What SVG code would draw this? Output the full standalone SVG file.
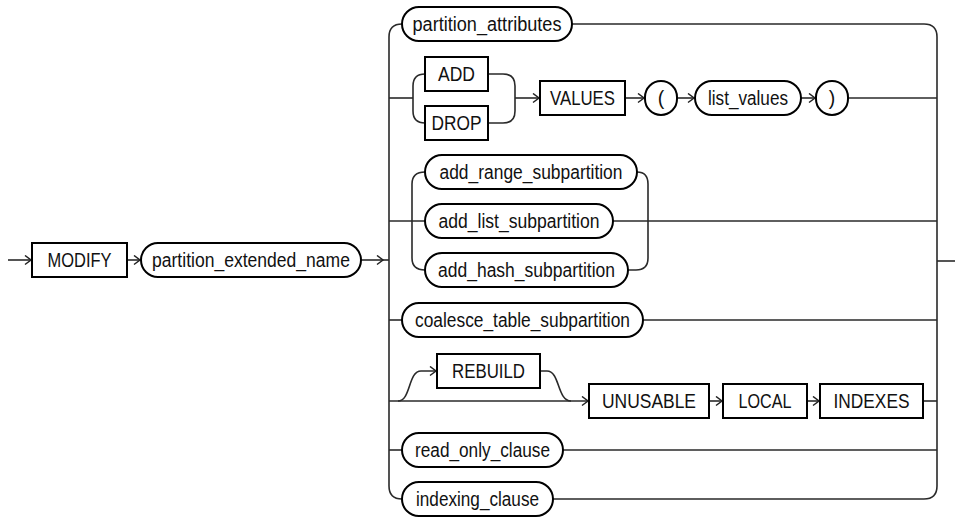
<svg xmlns="http://www.w3.org/2000/svg" width="955" height="518" viewBox="0 0 955 518">
<defs>
<marker id="arr" markerUnits="userSpaceOnUse" markerWidth="10" markerHeight="12" refX="7" refY="5" orient="auto">
<path d="M1,0.5 L7,5 L1,9.5" fill="none" stroke="#222" stroke-width="1.5"/>
</marker>
</defs>
<style>
.ln{fill:none;stroke:#2a2a2a;stroke-width:1.6}
.a{marker-end:url(#arr)}
.kw{fill:#fff;stroke:#000;stroke-width:2}
.nt{fill:#fff;stroke:#000;stroke-width:2}
text{font-family:"Liberation Sans",Arial,sans-serif;font-size:19.5px;fill:#111;text-anchor:middle}
</style>
<rect width="955" height="518" fill="#fff"/>
<g id="connectors">
<path class="ln a" d="M8,260 L31,260"/>
<path class="ln a" d="M127,260 L140,260"/>
<path class="ln a" d="M361,260 L383,260"/>
<path class="ln" d="M383,260 L389,260"/>
<path class="ln" d="M402,24 Q389,24 389,37 L389,486 Q389,499 402,499"/>
<path class="ln" d="M572,24 L924,24 Q937,24 937,37 L937,486 Q937,499 924,499 L553,499"/>
<path class="ln" d="M937,261 L955,261"/>
<path class="ln" d="M389,98 L413,98"/>
<path class="ln" d="M425,74 Q413,74 413,86 L413,111 Q413,123 425,123"/>
<path class="ln" d="M488,74 L503,74 Q515,74 515,86 L515,111 Q515,123 503,123 L488,123"/>
<path class="ln a" d="M515,98 L539,98"/>
<path class="ln a" d="M625,98 L644,98"/>
<path class="ln a" d="M677,98 L694,98"/>
<path class="ln a" d="M801,98 L815,98"/>
<path class="ln" d="M848,98 L937,98"/>
<path class="ln" d="M389,221 L425,221"/>
<path class="ln" d="M425,172 Q412,172 412,184 L412,258 Q412,270 425,270"/>
<path class="ln" d="M637,172 Q648,172 648,184 L648,258 Q648,270 636,270 L628,270"/>
<path class="ln" d="M613,221 L937,221"/>
<path class="ln" d="M389,320 L402,320"/>
<path class="ln" d="M643,320 L937,320"/>
<path class="ln a" d="M389,401 L588,401"/>
<path class="ln a" d="M398,401 C411,401 408,371 421,371 L436,371"/>
<path class="ln" d="M540,371 L547,371 C560,371 557,401 571,401"/>
<path class="ln a" d="M709,401 L722,401"/>
<path class="ln a" d="M807,401 L819,401"/>
<path class="ln" d="M923,401 L937,401"/>
<path class="ln" d="M389,450 L402,450"/>
<path class="ln" d="M563,450 L937,450"/>
</g>
<g id="n-modify"><rect class="kw" x="32" y="243" width="95" height="34"/><text x="79.5" y="267" textLength="64" lengthAdjust="spacingAndGlyphs">MODIFY</text></g>
<g id="n-partition_extended_name"><rect class="nt" x="141" y="243" width="220" height="34" rx="17"/><text x="251" y="266.5" textLength="198" lengthAdjust="spacingAndGlyphs">partition_extended_name</text></g>
<g id="n-partition_attributes"><rect class="nt" x="402" y="7" width="170" height="34" rx="17"/><text x="487" y="30.5" textLength="149" lengthAdjust="spacingAndGlyphs">partition_attributes</text></g>
<g id="n-add"><rect class="kw" x="425" y="57" width="63" height="34"/><text x="456.5" y="81" textLength="37" lengthAdjust="spacingAndGlyphs">ADD</text></g>
<g id="n-drop"><rect class="kw" x="425" y="106" width="63" height="34"/><text x="456.5" y="130" textLength="50" lengthAdjust="spacingAndGlyphs">DROP</text></g>
<g id="n-values"><rect class="kw" x="540" y="81" width="85" height="34"/><text x="582.5" y="105" textLength="65" lengthAdjust="spacingAndGlyphs">VALUES</text></g>
<g id="n-lparen"><rect class="kw" x="645" y="81" width="32" height="34" rx="16"/><text x="661" y="104.5">(</text></g>
<g id="n-list_values"><rect class="nt" x="695" y="81" width="106" height="34" rx="17"/><text x="748" y="104.5" textLength="80" lengthAdjust="spacingAndGlyphs">list_values</text></g>
<g id="n-rparen"><rect class="kw" x="816" y="81" width="32" height="34" rx="16"/><text x="832" y="104.5">)</text></g>
<g id="n-add_range_subpartition"><rect class="nt" x="425" y="155" width="212" height="34" rx="17"/><text x="531" y="178.5" textLength="183" lengthAdjust="spacingAndGlyphs">add_range_subpartition</text></g>
<g id="n-add_list_subpartition"><rect class="nt" x="425" y="204" width="188" height="34" rx="17"/><text x="519" y="227.5" textLength="161" lengthAdjust="spacingAndGlyphs">add_list_subpartition</text></g>
<g id="n-add_hash_subpartition"><rect class="nt" x="425" y="253" width="203" height="34" rx="17"/><text x="526.5" y="276.5" textLength="177" lengthAdjust="spacingAndGlyphs">add_hash_subpartition</text></g>
<g id="n-coalesce_table_subpartition"><rect class="nt" x="402" y="303" width="241" height="34" rx="17"/><text x="522.5" y="326.5" textLength="215" lengthAdjust="spacingAndGlyphs">coalesce_table_subpartition</text></g>
<g id="n-rebuild"><rect class="kw" x="437" y="354" width="103" height="34"/><text x="488.5" y="378" textLength="73" lengthAdjust="spacingAndGlyphs">REBUILD</text></g>
<g id="n-unusable"><rect class="kw" x="589" y="384" width="120" height="34"/><text x="649" y="408" textLength="94" lengthAdjust="spacingAndGlyphs">UNUSABLE</text></g>
<g id="n-local"><rect class="kw" x="723" y="384" width="84" height="34"/><text x="765" y="408" textLength="53" lengthAdjust="spacingAndGlyphs">LOCAL</text></g>
<g id="n-indexes"><rect class="kw" x="820" y="384" width="103" height="34"/><text x="871.5" y="408" textLength="76" lengthAdjust="spacingAndGlyphs">INDEXES</text></g>
<g id="n-read_only_clause"><rect class="nt" x="402" y="433" width="161" height="34" rx="17"/><text x="482.5" y="456.5" textLength="135" lengthAdjust="spacingAndGlyphs">read_only_clause</text></g>
<g id="n-indexing_clause"><rect class="nt" x="402" y="482" width="151" height="34" rx="17"/><text x="477.5" y="505.5" textLength="123" lengthAdjust="spacingAndGlyphs">indexing_clause</text></g>
</svg>
